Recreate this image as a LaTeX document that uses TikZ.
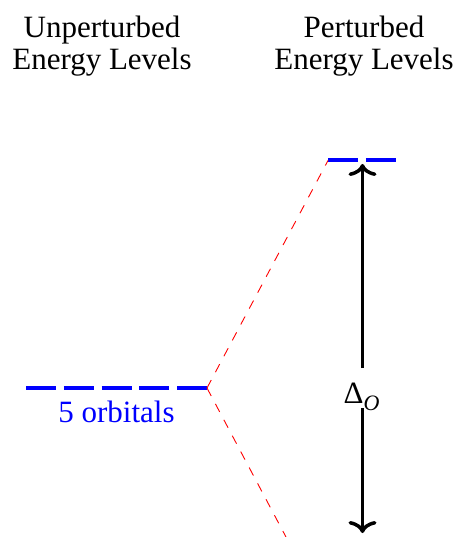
\documentclass[tikz,border=0pt]{standalone}
\usepackage{fontspec}
\setmainfont{Liberation Serif}
\newfontfamily\timesfam{Liberation Serif}
\usetikzlibrary{arrows.meta}
\begin{document}
\begin{tikzpicture}[x=1pt,y=-1pt,
  title/.style={font=\timesfam\fontsize{31}{32}\selectfont, align=center, inner sep=0pt, anchor=north},
  level/.style={draw=blue, line width=4pt, dash pattern=on 30pt off 7.75pt},
  corr/.style={draw=red, line width=0.9pt, dash pattern=on 9pt off 9pt},
  gap/.style={draw=black, line width=3.5pt, -{Computer Modern Rightarrow[length=12pt,width=28pt]}},
  lbl/.style={font=\timesfam\fontsize{31}{32}\selectfont, inner sep=0pt, anchor=base}
]
\useasboundingbox (0,0) rectangle (461,537);
\clip (0,0) rectangle (461,537);
% titles
\node[title] (tleft) at (102,16) {Unperturbed\\Energy Levels};
\node[title] (tright) at (364,16) {Perturbed\\Energy Levels};
% levels
\coordinate (L0) at (26,388);
\coordinate (L1) at (207,388);
\coordinate (U0) at (328,160.5);
\coordinate (U1) at (397,160.5);
\coordinate (Dend) at (286,537);
\draw[level] (L0) -- (L1);
\draw[level] (U0) -- (U1);
\node[lbl, text=blue] (orb) at (116.5,422) {5 orbitals};
% correlation lines
\draw[corr] (L1) -- (U0);
\draw[corr] (L1) -- (Dend);
% splitting arrow
\coordinate (Atop) at (362.5,164);
\coordinate (Abot) at (362.5,533);
\coordinate (Gtop) at (362.5,368);
\coordinate (Gbot) at (362.5,408);
\draw[gap] (Gtop) -- (Atop);
\draw[gap] (Gbot) -- (Abot);
\node[lbl] (delta) at (361.5,403) {Δ\raisebox{-7pt}{\timesfam\fontsize{22}{22}\selectfont\itshape O}};
\end{tikzpicture}
\end{document}
